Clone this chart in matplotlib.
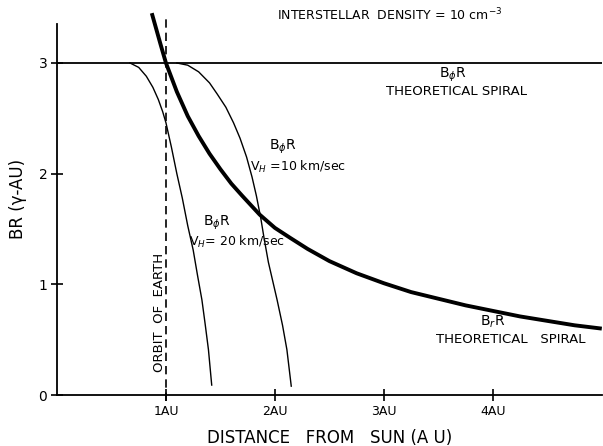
import matplotlib
matplotlib.use("Agg")
import matplotlib.pyplot as plt

# B_r R theoretical spiral (thick curve)
br_x = [0.87, 0.95, 1.0, 1.1, 1.2, 1.3, 1.4, 1.5, 1.6, 1.7, 1.86, 2.0, 2.14, 2.3, 2.5,
        2.75, 3.0, 3.25, 3.5, 3.75, 4.0, 4.25, 4.5, 4.75, 5.0]
br_y = [3.45, 3.17, 3.0, 2.74, 2.52, 2.34, 2.18, 2.04, 1.91, 1.80, 1.63, 1.51, 1.42, 1.32, 1.21,
        1.10, 1.01, 0.93, 0.87, 0.81, 0.76, 0.71, 0.67, 0.63, 0.60]

# B_phi R theoretical spiral (flat line)
bphi_x = [0.0, 5.0]
bphi_y = [3.0, 3.0]

# B_phi R, V_H = 10 km/sec
v10_x = [1.10, 1.2, 1.3, 1.4, 1.47, 1.55, 1.62, 1.68, 1.74, 1.79, 1.83, 1.87, 1.90,
         1.94, 1.98, 2.02, 2.07, 2.11, 2.15]
v10_y = [3.0, 2.98, 2.92, 2.82, 2.72, 2.60, 2.46, 2.32, 2.15, 1.97, 1.80, 1.60, 1.42,
         1.20, 1.03, 0.86, 0.63, 0.41, 0.08]

# B_phi R, V_H = 20 km/sec
v20_x = [0.67, 0.75, 0.82, 0.88, 0.93, 0.97, 1.0, 1.05, 1.10, 1.15, 1.20, 1.25, 1.29,
         1.33, 1.36, 1.39, 1.42]
v20_y = [3.0, 2.96, 2.88, 2.78, 2.67, 2.56, 2.46, 2.24, 2.0, 1.78, 1.53, 1.31, 1.08,
         0.86, 0.64, 0.41, 0.09]

x_ticks = [1, 2, 3, 4]
x_tick_labels = ["1AU", "2AU", "3AU", "4AU"]
y_ticks = [0, 1, 2, 3]

fig = plt.figure(figsize=(6.03, 4.46), dpi=100)
ax = fig.add_axes([0.0945, 0.1143, 0.9035, 0.881])

ax.plot(bphi_x, bphi_y, color="black", lw=1.3)
ax.plot(v10_x, v10_y, color="black", lw=1.0)
ax.plot(v20_x, v20_y, color="black", lw=1.0)
ax.plot(br_x, br_y, color="black", lw=2.8, solid_capstyle="butt")
ax.plot([1, 1], [-0.05, 3.43], color="black", lw=1.2, ls=(0, (5, 3)), clip_on=False)

ax.set_xlim(0, 5)
ax.set_ylim(0, 3.55)
ax.spines["top"].set_visible(False)
ax.spines["right"].set_visible(False)
ax.spines["left"].set_bounds(0, 3.35)
ax.spines["left"].set_linewidth(1.3)
ax.spines["bottom"].set_linewidth(1.3)

ax.set_xticks(x_ticks)
ax.set_xticklabels(x_tick_labels, fontsize=9)
ax.set_yticks(y_ticks)
ax.set_yticklabels([str(v) for v in y_ticks], fontsize=10)
ax.tick_params(direction="inout", length=8, width=1.2, pad=3)

ax.set_xlabel("DISTANCE   FROM   SUN (A U)", fontsize=12, labelpad=8)
ax.set_ylabel("BR (γ-AU)", fontsize=12, labelpad=8)

ax.text(3.05, 3.43, "INTERSTELLAR  DENSITY = 10 cm$^{-3}$", fontsize=9, ha="center", va="center")
ax.text(3.63, 2.89, r"B$_\phi$R", fontsize=10, ha="center", va="center")
ax.text(3.67, 2.74, "THEORETICAL SPIRAL", fontsize=9.5, ha="center", va="center")
ax.text(2.07, 2.24, r"B$_\phi$R", fontsize=10, ha="center", va="center")
ax.text(2.21, 2.06, r"V$_H$ =10 km/sec", fontsize=9, ha="center", va="center")
ax.text(1.47, 1.56, r"B$_\phi$R", fontsize=10, ha="center", va="center")
ax.text(1.65, 1.38, r"V$_H$= 20 km/sec", fontsize=9, ha="center", va="center")
ax.text(4.0, 0.66, "B$_r$R", fontsize=10, ha="center", va="center")
ax.text(4.16, 0.50, "THEORETICAL   SPIRAL", fontsize=9.5, ha="center", va="center")
ax.text(0.945, 0.75, "ORBIT  OF  EARTH", fontsize=9.5, rotation=90, ha="center", va="center")

fig.savefig("out.png", dpi=100)
